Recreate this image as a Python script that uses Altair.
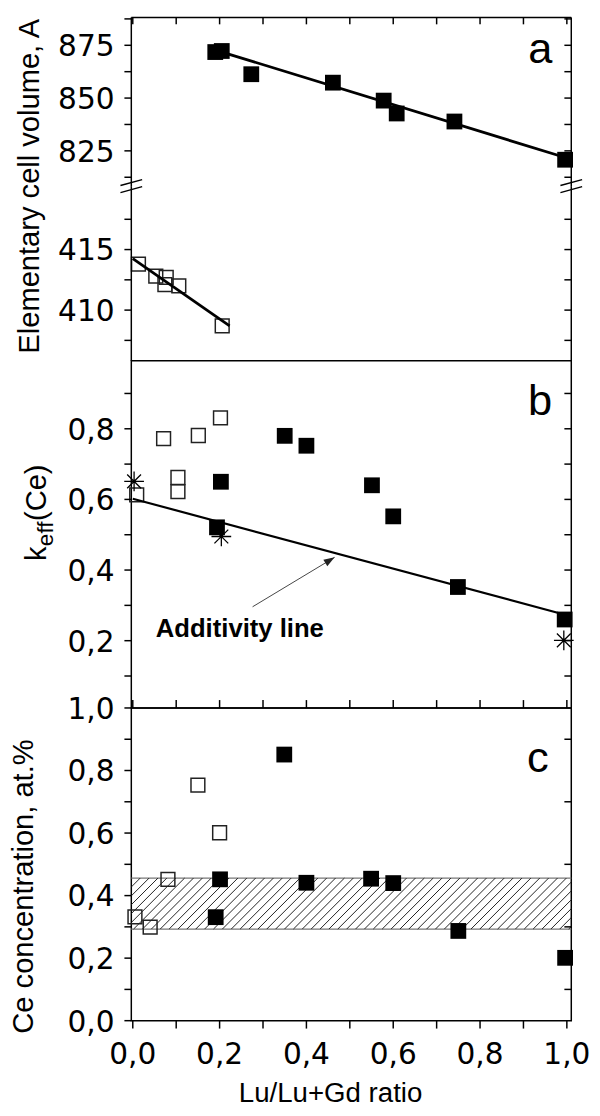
import altair as alt
import numpy as np
import pandas as pd

# ---------------- data ----------------
X_MAJOR = [0.0, 0.2, 0.4, 0.6, 0.8, 1.0]
X_LABELS = ["0,0", "0,2", "0,4", "0,6", "0,8", "1,0"]
X_MINOR = [0.1, 0.3, 0.5, 0.7, 0.9]
AU_MAJOR = [825, 850, 875]
AU_LABELS = ["825", "850", "875"]
AU_MINOR = [812.5, 837.5, 862.5, 887.5]
AL_MAJOR = [410, 415]
AL_LABELS = ["410", "415"]
AL_MINOR = [407.5, 412.5, 417.5]
B_MAJOR = [0.2, 0.4, 0.6, 0.8]
B_LABELS = ["0,2", "0,4", "0,6", "0,8"]
B_MINOR = [0.1, 0.3, 0.5, 0.7, 0.9]
C_MAJOR = [0.0, 0.2, 0.4, 0.6, 0.8, 1.0]
C_LABELS = ["0,0", "0,2", "0,4", "0,6", "0,8", "1,0"]
C_MINOR = [0.1, 0.3, 0.5, 0.7, 0.9]

# panel a, upper part (filled squares) and its fit line
AU_X = [0.19, 0.205, 0.273, 0.461, 0.578, 0.608, 0.741, 0.996]
AU_Y = [871.8, 872.3, 861.3, 857.3, 848.8, 842.7, 838.9, 820.8]
AU_FIT_X = [0.215, 1.0]
AU_FIT_Y = [871.2, 821.6]

# panel a, lower part (open squares) and its fit line
AL_X = [0.013, 0.053, 0.077, 0.074, 0.106, 0.206]
AL_Y = [413.8, 412.8, 412.7, 412.1, 412.0, 408.7]
AL_FIT_X = [0.0, 0.223]
AL_FIT_Y = [414.25, 408.7]

# panel b
B_OPEN_X = [0.009, 0.071, 0.104, 0.104, 0.151, 0.202]
B_OPEN_Y = [0.613, 0.772, 0.662, 0.622, 0.781, 0.831]
B_FILL_X = [0.194, 0.203, 0.350, 0.400, 0.551, 0.600, 0.749, 0.995]
B_FILL_Y = [0.521, 0.650, 0.780, 0.752, 0.640, 0.552, 0.352, 0.260]
B_STAR_X = [0.003, 0.204, 0.993]
B_STAR_Y = [0.651, 0.495, 0.201]
ADD_X = [0.0, 1.0]
ADD_Y = [0.602, 0.272]
ARROW_X = [0.276, 0.465]
ARROW_Y = [0.296, 0.436]
ADD_TEXT = ["Additivity line"]
ADD_TEXT_X = [0.053]
ADD_TEXT_Y = [0.211]

# panel c
C_OPEN_X = [0.005, 0.040, 0.081, 0.150, 0.200]
C_OPEN_Y = [0.332, 0.299, 0.452, 0.753, 0.601]
C_FILL_X = [0.191, 0.201, 0.349, 0.400, 0.549, 0.600, 0.750, 0.996]
C_FILL_Y = [0.331, 0.452, 0.851, 0.441, 0.454, 0.440, 0.287, 0.201]
BAND = [0.293, 0.456]

PANEL_LABELS = ["a", "b", "c"]
LABEL_X = [0.939, 0.938, 0.933]
LABEL_Y = [866.7, 0.84, 0.796]

TITLE_A = "Elementary cell volume, A"
TITLE_C = "Ce concentration, at.%"
TITLE_X = "Lu/Lu+Gd ratio"

# ---------------- layout / style ----------------
W = 446
H_AU, H_AL, H_B, H_C = 171, 177, 352, 317
X_DOM = [-0.0034, 1.0102]
AU_DOM = [808.3, 888.2]
AL_DOM = [405.82, 420.24]
B_DOM = [0.0095, 0.9927]
C_DOM = [0.0, 1.0]
FONT = "Liberation Sans"
TFONT = "DejaVu Sans"
TFS = 30
TICK = 7
LW = 1.5

STAR = "M0,-1L0,1M-1,0L1,0M-0.7,-0.7L0.7,0.7M-0.7,0.7L0.7,-0.7"
BREAK = "M-1,-0.05L1,-0.6M-1,0.6L1,0.05"
HEAD = "M0,0L0.35,1L-0.35,1Z"


def xq(field="x"):
    return alt.X(f"{field}:Q", scale=alt.Scale(domain=X_DOM, nice=False, zero=False), axis=None)


def yq(dom, field="y"):
    return alt.Y(f"{field}:Q", scale=alt.Scale(domain=dom, nice=False, zero=False), axis=None)


def pts(xv, yv):
    return pd.DataFrame({"x": xv, "y": yv})


def one():
    return pd.DataFrame({"d": [0]})


def filled_sq(xv, yv, dom):
    return alt.Chart(pts(xv, yv)).mark_point(
        shape="square", size=256, filled=True, color="black", opacity=1
    ).encode(x=xq(), y=yq(dom))


def open_sq(xv, yv, dom):
    return alt.Chart(pts(xv, yv)).mark_point(
        shape="square", size=196, filled=False, color="#222", strokeWidth=1.5, opacity=1
    ).encode(x=xq(), y=yq(dom))


def fit_line(xv, yv, dom, width):
    return alt.Chart(pts(xv, yv)).mark_line(color="black", strokeWidth=width).encode(
        x=xq(), y=yq(dom)
    )


def y_ticks(vals, dom, x0, x1):
    return alt.Chart(pd.DataFrame({"y": vals})).mark_rule(color="black", strokeWidth=LW).encode(
        y=yq(dom), x=alt.value(x0), x2=alt.value(x1)
    )


def x_ticks(vals, y0, y1):
    return alt.Chart(pd.DataFrame({"x": vals})).mark_rule(color="black", strokeWidth=LW).encode(
        x=xq(), y=alt.value(y0), y2=alt.value(y1)
    )


def y_labels(vals, labels, dom):
    return alt.Chart(pd.DataFrame({"y": vals, "t": labels})).mark_text(
        font=TFONT, fontSize=TFS, align="right", baseline="middle", dy=2, color="black"
    ).encode(y=yq(dom), x=alt.value(-17), text="t:N")


def hline(x0, x1, y):
    return alt.Chart(one()).mark_rule(color="black", strokeWidth=LW).encode(
        x=alt.value(x0), x2=alt.value(x1), y=alt.value(y)
    )


def vline(x, y0, y1):
    return alt.Chart(one()).mark_rule(color="black", strokeWidth=LW).encode(
        x=alt.value(x), y=alt.value(y0), y2=alt.value(y1)
    )


def break_mark(x, y):
    return alt.Chart(one()).mark_point(
        shape=BREAK, size=484, filled=False, color="black", strokeWidth=1.5, opacity=1
    ).encode(x=alt.value(x), y=alt.value(y))


def panel_label(i, dom):
    df = pd.DataFrame({"x": [LABEL_X[i]], "y": [LABEL_Y[i]], "t": [PANEL_LABELS[i]]})
    return alt.Chart(df).mark_text(
        font=FONT, fontSize=44, align="center", baseline="alphabetic", color="black"
    ).encode(x=xq(), y=yq(dom), text="t:N")


def free_text(text, x, y, size, angle=0, align="left", weight="normal"):
    kw = dict(text=text, font=FONT, fontSize=size, align=align,
              baseline="alphabetic", color="black", fontWeight=weight)
    if angle:
        kw["angle"] = angle
    return alt.Chart(one()).mark_text(**kw).encode(x=alt.value(x), y=alt.value(y))


ALL_X = sorted(X_MAJOR + X_MINOR)

# ---------------- panel a (upper) ----------------
au = alt.layer(
    fit_line(AU_FIT_X, AU_FIT_Y, AU_DOM, 2.8),
    filled_sq(AU_X, AU_Y, AU_DOM),
    y_ticks(AU_MAJOR + AU_MINOR, AU_DOM, -TICK, 0),
    y_ticks(AU_MAJOR + AU_MINOR, AU_DOM, W - TICK, W),
    y_labels(AU_MAJOR, AU_LABELS, AU_DOM),
    x_ticks(ALL_X, 0, TICK),
    hline(0, W, 0),
    vline(0, 0, H_AU),
    vline(W, 0, H_AU),
    break_mark(0, H_AU),
    break_mark(W, H_AU),
    panel_label(0, AU_DOM),
    free_text(TITLE_A, -94, 1.5, 29.5, angle=270, align="right"),
).properties(width=W, height=H_AU, view=alt.ViewBackground(stroke="transparent"))

# ---------------- panel a (lower) ----------------
al = alt.layer(
    open_sq(AL_X, AL_Y, AL_DOM),
    fit_line(AL_FIT_X, AL_FIT_Y, AL_DOM, 2.8),
    y_ticks(AL_MAJOR + AL_MINOR, AL_DOM, -TICK, 0),
    y_ticks(AL_MAJOR + AL_MINOR, AL_DOM, W - TICK, W),
    y_labels(AL_MAJOR, AL_LABELS, AL_DOM),
    vline(0, 0, H_AL),
    vline(W, 0, H_AL),
).properties(width=W, height=H_AL, view=alt.ViewBackground(stroke="transparent"))

# ---------------- panel b ----------------
px_x = W / (X_DOM[1] - X_DOM[0])
px_b = H_B / (B_DOM[1] - B_DOM[0])
arrow_angle = float(np.degrees(np.arctan2((ARROW_X[1] - ARROW_X[0]) * px_x,
                                          (ARROW_Y[1] - ARROW_Y[0]) * px_b)))
arrow_df = pd.DataFrame({"x": [ARROW_X[0]], "x2": [ARROW_X[1]],
                         "y": [ARROW_Y[0]], "y2": [ARROW_Y[1]]})
head_df = pts([ARROW_X[1]], [ARROW_Y[1]])

b = alt.layer(
    open_sq(B_OPEN_X, B_OPEN_Y, B_DOM),
    alt.Chart(pts(B_STAR_X, B_STAR_Y)).mark_point(
        shape=STAR, size=400, filled=False, color="black", strokeWidth=1.3, opacity=1
    ).encode(x=xq(), y=yq(B_DOM)),
    filled_sq(B_FILL_X, B_FILL_Y, B_DOM),
    fit_line(ADD_X, ADD_Y, B_DOM, 2.2),
    alt.Chart(arrow_df).mark_rule(color="#444", strokeWidth=1).encode(
        x=xq(), x2="x2:Q", y=yq(B_DOM), y2="y2:Q"
    ),
    alt.Chart(head_df).mark_point(
        shape=HEAD, size=484, filled=True, color="#222", angle=arrow_angle, opacity=1
    ).encode(x=xq(), y=yq(B_DOM)),
    alt.Chart(pd.DataFrame({"x": ADD_TEXT_X, "y": ADD_TEXT_Y, "t": ADD_TEXT})).mark_text(
        font=FONT, fontSize=26, fontWeight="bold", align="left", baseline="alphabetic",
        color="black"
    ).encode(x=xq(), y=yq(B_DOM), text="t:N"),
    y_ticks(B_MAJOR + B_MINOR, B_DOM, -TICK, 0),
    y_ticks(B_MAJOR + B_MINOR, B_DOM, W - TICK, W),
    y_labels(B_MAJOR, B_LABELS, B_DOM),
    x_ticks(ALL_X, H_B - 8, H_B),
    panel_label(1, B_DOM),
    free_text("k", -86, 203, 29.5, angle=270),
    free_text("eff", -79, 188, 23, angle=270),
    free_text("(Ce)", -86, 162.5, 29.5, angle=270),
).properties(width=W, height=H_B)

# ---------------- panel c ----------------
px_c = H_C / (C_DOM[1] - C_DOM[0])
hatch_dx = (BAND[1] - BAND[0]) * px_c / px_x
hatch_step = 9.0 / px_x
starts = np.arange(X_DOM[0] - hatch_dx, X_DOM[1], hatch_step)
hatch_df = pd.DataFrame({"x": starts, "x2": starts + hatch_dx,
                         "y": BAND[0], "y2": BAND[1]})

c = alt.layer(
    alt.Chart(pd.DataFrame({"y": BAND})).mark_rule(color="#777", strokeWidth=1.3).encode(
        y=yq(C_DOM)
    ),
    alt.Chart(hatch_df).mark_rule(color="#222", strokeWidth=1, clip=True).encode(
        x=xq(), x2="x2:Q", y=yq(C_DOM), y2="y2:Q"
    ),
    open_sq(C_OPEN_X, C_OPEN_Y, C_DOM),
    filled_sq(C_FILL_X, C_FILL_Y, C_DOM),
    y_ticks(C_MAJOR + C_MINOR, C_DOM, -TICK, 0),
    y_ticks(C_MINOR, C_DOM, W - TICK, W),
    y_labels(C_MAJOR, C_LABELS, C_DOM),
    x_ticks(ALL_X, H_C, H_C + 8),
    alt.Chart(pd.DataFrame({"x": X_MAJOR, "t": X_LABELS})).mark_text(
        font=TFONT, fontSize=TFS, align="center", baseline="alphabetic", color="black"
    ).encode(x=xq(), y=alt.value(H_C + 44), text="t:N"),
    panel_label(2, C_DOM),
    free_text(TITLE_C, -100, 181, 29.5, angle=270, align="center"),
    free_text(TITLE_X, 202, H_C + 82, 28, align="center"),
).properties(width=W, height=H_C)

chart = alt.vconcat(au, al, b, c, spacing=0, bounds="flush").properties(
    padding={"left": 0, "top": 0, "right": 0, "bottom": -5}
).configure_view(stroke="black", strokeWidth=1.5)

chart.save("out.html", embed_options={"renderer": "svg", "actions": False})
